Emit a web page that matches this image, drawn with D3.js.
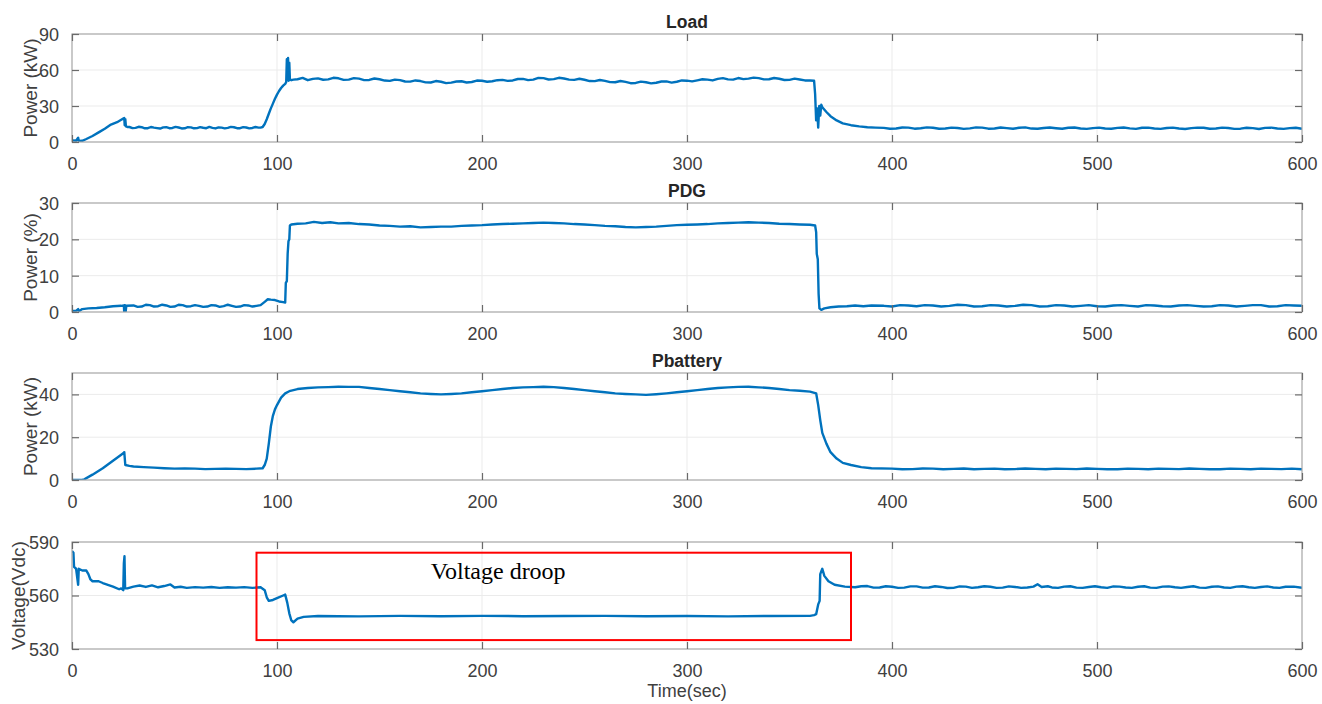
<!DOCTYPE html>
<html><head><meta charset="utf-8">
<script src="https://cdn.jsdelivr.net/npm/d3@7"></script>
<style>
html,body{margin:0;padding:0;background:#fff;}
svg{display:block;}
</style></head>
<body>
<svg id="chart" width="1322" height="704" font-family="'Liberation Sans',Arial,Helvetica,sans-serif"></svg>
<script>
// ---------------- DATA ----------------
const xTicks = [0,100,200,300,400,500,600];
const titles = ["Load","PDG","Pbattery",""];
const yLabels = ["Power (kW)","Power (%)","Power (kW)","Voltage(Vdc)"];
const yDomains = [[0,90],[0,30],[0,50],[530,590]];
const yTicks = [[0,30,60,90],[0,10,20,30],[0,20,40],[530,560,590]];

const loadData = [
 [0,1.5],[1,1.2],[2,1.0],[3,3.5],[3.3,0.8],[5,1.0],[7,2.5],[10,5.0],[13,8.0],[16,11],[19,14.5],[22,16.5],[24,18.5],[25,19.5],[25.5,20],[25.7,14],[26,19],[26.3,13],[27,12.5],
 [28,12.5],[29.5,11.6],[31,11.8],[32.5,12.7],[34,12.3],[35.5,11.4],[37,11.5],[38.5,12.5],[40,12.0],[41.5,11.6],[43,11.2],[44.5,12.2],[46,12.4],[47.5,11.5],[49,11.7],[50.5,12.6],[52,12.1],[53.5,11.3],[55,11.4],[56.5,12.3],[58,12.2],[59.5,11.4],[61,11.6],[62.5,12.4],[64,11.9],[65.5,11.5],[67,12.6],[68.5,11.8],[70,11.3],[71.5,12.2],[73,12.0],[74.5,11.4],[76,11.8],[77.5,12.6],[79,12.3],[80.5,11.5],[82,11.5],[83.5,12.4],[85,12.1],[86.5,11.4],[88,11.7],[89.5,12.5],[91,12.0],
 [92,12],[93,12.5],[94,15],[95,19],[96,23.5],[97,28],[98,32],[99,36],[100,39.5],[101,42.5],[102,45],[103,47],[104,48.5],[104.5,50],[104.8,69],[105.1,52],[105.4,70],[105.7,51],[106,66],[106.3,52],[107,51.5],[108,52],
 [110,52.3],[112.5,53.4],[115,51.5],[117.5,52.6],[120,53.0],[122.5,51.9],[125,52.2],[127.5,53.5],[130,53.1],[132.5,51.8],[135,52.0],[137.5,53.2],[140,52.8],[142.5,51.6],[145,51.7],[147.5,52.9],[150,52.3],[152.5,51.2],[155,50.9],[157.5,52.0],[160,51.6],[162.5,50.4],[165,50.3],[167.5,51.3],[170,50.8],[172.5,49.7],[175,49.6],[177.5,50.8],[180,50.2],[182.5,49.1],[185,49.5],[187.5,50.4],[190,50.6],[192.5,49.6],[195,50.0],[197.5,51.2],[200,51.0],[202.5,50.2],[205,50.6],[207.5,51.5],[210,51.8],[212.5,50.9],[215,51.3],[217.5,52.5],[220,52.6],[222.5,51.6],[225,52.0],[227.5,53.4],[230,53.2],[232.5,52.1],[235,52.4],[237.5,53.5],[240,52.9],[242.5,52.0],[245,51.8],[247.5,52.7],[250,51.9],[252.5,50.8],[255,50.7],[257.5,51.7],[260,50.9],[262.5,49.9],[265,49.8],[267.5,50.8],[270,50.1],[272.5,49.0],[275,49.2],[277.5,50.3],[280,49.8],[282.5,48.9],[285,49.4],[287.5,50.4],[290,50.5],[292.5,49.5],[295,50.2],[297.5,51.3],[300,51.1],[302.5,50.5],[305,51.4],[307.5,52.3],[310,52.0],[312.5,51.3],[315,52.6],[317.5,53.2],[320,52.2],[322.5,52.0],[325,53.3],[327.5,52.4],[330,52.8],[332.5,53.6],[335,53.2],[337.5,52.2],[340,52.3],[342.5,53.3],[345,52.7],[347.5,51.7],[350,51.8],[352.5,52.8],[355,52.1],[357.5,51.3],[360,51.2],[362,51.0],
 [362.5,40],[363,18],[363.5,28],[364,12],[364.5,30],[365,22],[365.5,31],[366,29],[368,25],[370,21.5],[373,18],[376,15.5],[380,14],[384,13],[388,12.3],[392,12.0],
 [396,11.8],[399,11.0],[402,11.3],[405,12.1],[408,12.0],[411,11.1],[414,11.5],[417,12.2],[420,11.9],[423,11.0],[426,11.2],[429,12.0],[432,11.7],[435,10.9],[438,11.4],[441,12.2],[444,12.0],[447,11.1],[450,11.3],[453,12.1],[456,11.6],[459,11.0],[462,11.9],[465,12.2],[468,11.2],[471,11.0],[474,11.7],[477,12.1],[480,11.5],[483,11.0],[486,11.9],[489,12.1],[492,11.3],[495,10.9],[498,11.6],[501,12.0],[504,11.2],[507,11.0],[510,11.8],[513,12.1],[516,11.4],[519,10.9],[522,11.9],[525,12.0],[528,11.3],[531,10.9],[534,11.7],[537,12.0],[540,11.2],[543,10.8],[546,11.6],[549,12.0],[552,11.9],[555,11.0],[558,11.3],[561,12.0],[564,11.7],[567,10.9],[570,11.1],[573,11.9],[576,11.6],[579,10.8],[582,11.8],[585,12.0],[588,11.2],[591,10.9],[594,11.6],[597,11.9],[600,11.0]
];

const pdgData = [
 [0,0.3],[2,0.3],[3,0.8],[3.3,0.2],[5,0.8],[8,1.0],[12,1.1],[16,1.3],[20,1.6],[24,1.7],[25.3,1.8],[25.5,-0.4],[25.8,1.9],[26.1,-0.2],[26.5,1.7],
 [30,1.8],[32,1.4],[34,1.5],[36,2.0],[38,1.9],[40,1.5],[42,1.6],[44,2.0],[46,1.8],[48,1.4],[50,1.5],[52,2.0],[54,1.9],[56,1.5],[58,1.6],[60,1.9],[62,1.7],[64,1.4],[66,1.5],[68,1.9],[70,1.8],[72,1.4],[74,1.6],[76,2.0],[78,1.7],[80,1.4],[82,1.5],[84,1.9],[86,1.8],[88,1.5],[90,1.7],[92,1.9],
 [94,2.8],[95.5,3.5],[97,3.4],[99,3.3],[101,2.9],[103,2.7],[104,2.6],[104.3,8.0],[104.8,8.5],[105.2,16],[105.6,19.5],[106,20],[106.3,23.8],[107,24.1],
 [110,24.3],[114,24.4],[118,24.8],[122,24.5],[126,24.7],[130,24.4],[135,24.5],[140,24.2],[145,24.1],[150,23.8],[155,23.7],[160,23.5],[165,23.6],[170,23.3],[175,23.4],[180,23.5],[185,23.5],[190,23.7],[195,23.8],[200,23.9],[205,24.1],[210,24.2],[215,24.3],[220,24.4],[225,24.5],[230,24.6],[235,24.5],[240,24.4],[245,24.2],[250,24.1],[255,23.9],[260,23.7],[265,23.6],[270,23.4],[275,23.3],[280,23.4],[285,23.5],[290,23.7],[295,23.9],[300,24.0],[305,24.1],[310,24.2],[315,24.4],[320,24.5],[325,24.6],[330,24.7],[335,24.6],[340,24.5],[345,24.3],[350,24.2],[355,24.1],[360,24.0],[362.5,23.8],
 [363,22],[363.3,16],[363.8,14.5],[364.2,5],[364.6,1.0],[365.5,0.6],[367,1.0],[370,1.3],[374,1.5],[378,1.6],[382,1.8],[386,1.6],[390,1.8],
 [396,1.7],[400,1.5],[404,1.9],[408,1.8],[412,1.6],[416,1.9],[420,1.8],[424,1.5],[428,1.7],[432,2.0],[436,1.9],[440,1.5],[444,1.6],[448,1.9],[452,1.8],[456,1.5],[460,1.7],[464,2.0],[468,1.9],[472,1.5],[476,1.6],[480,1.9],[484,1.8],[488,1.5],[492,1.7],[496,1.9],[500,1.6],[504,1.5],[508,1.8],[512,1.9],[516,1.7],[520,1.5],[524,1.9],[528,1.8],[532,1.6],[536,1.5],[540,1.8],[544,1.9],[548,1.7],[552,1.5],[556,1.6],[560,1.9],[564,1.8],[568,1.5],[572,1.7],[576,1.9],[580,1.9],[584,1.5],[588,1.6],[592,1.9],[596,1.8],[600,1.7]
];

const batData = [
 [0,0],[5,0],[6,0.3],[10,2.5],[15,5.5],[20,9],[25,12.5],[25.5,13],[26,7],[28,6.6],[30,6.3],[35,6.0],[40,5.8],[45,5.5],[50,5.3],[55,5.4],[60,5.3],[65,5.1],[70,5.2],[75,5.3],[80,5.2],[85,5.1],[90,5.3],[93,5.5],
 [94,7],[95,10],[96,17],[97,25],[98,30],[99,33],[100,35],[102,38.5],[104,40.5],[106,41.5],[110,42.5],[115,43.0],[120,43.3],[125,43.4],[130,43.6],[135,43.5],[140,43.5],[145,43.0],[150,42.5],[155,42.0],[160,41.5],[165,41.0],[170,40.5],[175,40.2],[180,40.0],[185,40.2],[190,40.5],[195,41.0],[200,41.5],[205,42.0],[210,42.5],[215,43.0],[220,43.3],[225,43.4],[230,43.6],[235,43.4],[240,43.0],[245,42.5],[250,42.0],[255,41.5],[260,41.0],[265,40.5],[270,40.2],[275,40.0],[280,39.8],[285,40.1],[290,40.5],[295,41.0],[300,41.5],[305,42.0],[310,42.5],[315,43.0],[320,43.3],[325,43.5],[330,43.6],[335,43.3],[340,43.0],[345,42.5],[350,42.0],[355,41.7],[360,41.3],[363,40.5],
 [364,35],[365,28],[366,22],[368,17],[370,13],[373,10],[376,8],[380,7],[385,6],[390,5.5],
 [400,5.3],[405,5.0],[410,5.1],[415,5.4],[420,5.3],[425,5.0],[430,5.2],[435,5.4],[440,5.0],[445,5.2],[450,5.3],[455,5.0],[460,5.1],[465,5.4],[470,5.2],[475,5.0],[480,5.3],[485,5.2],[490,5.1],[495,5.4],[500,5.2],[505,5.0],[510,5.0],[515,5.3],[520,5.2],[525,5.0],[530,5.3],[535,5.2],[540,5.1],[545,5.4],[550,5.2],[555,5.0],[560,5.0],[565,5.3],[570,5.2],[575,5.0],[580,5.3],[585,5.2],[590,5.1],[595,5.3],[600,5.0]
];

const voltData = [
 [0,585],[0.7,584],[1,576],[2,575],[3,566],[3.3,575],[5,574],[7,574],[8,572],[9,569],[10,568],[13,568],[15,567],[20,565],[23,563.5],[24,564],[25,563],[25.3,578],[25.6,582],[25.9,564],
 [27,564],[30,565],[33,565.6],[36,564.8],[39,565.7],[42,564.6],[45,565.3],[48,566.2],[50,564.5],[53,564.9],[56,564.3],[60,564.7],[64,564.4],[68,564.8],[72,564.3],[76,564.6],[80,564.4],[84,564.7],[88,564.3],[92,564.6],
 [94,563],[95,559],[96,557],[98,557.5],[100,558.5],[103,560],[104,560.5],[105,556],[106,550],[107,546],[108,545],[110,547],[113,548],[120,548.5],
 [140,548.3],[160,548.6],[180,548.4],[200,548.6],[220,548.4],[240,548.5],[260,548.6],[280,548.4],[300,548.5],[320,548.3],[340,548.5],[360,548.6],[362,549],[363,549.5],
 [364,555],[364.7,557],[365,572],[366,575],[367,571],[369,568],[372,566],[377,565],
 [382,564.6],[385,565.2],[388,565.3],[391,564.4],[394,564.5],[397,565.2],[400,564.9],[403,564.3],[406,564.4],[409,565.1],[412,565.1],[415,564.4],[418,564.5],[421,565.2],[424,564.8],[427,564.2],[430,564.3],[433,565.1],[436,565.0],[439,564.3],[442,564.6],[445,565.2],[448,564.9],[451,564.3],[454,564.4],[457,565.1],[460,564.8],[463,564.3],[466,564.5],[469,565.0],[471,566.3],[473,564.8],[476,565.2],[478,564.5],[481,564.3],[484,565.0],[487,565.2],[490,564.4],[493,564.3],[496,564.8],[499,565.2],[502,564.6],[505,564.3],[508,565.1],[511,565.0],[514,564.5],[517,564.3],[520,564.9],[523,565.2],[526,564.4],[529,564.3],[532,565.0],[535,565.1],[538,564.6],[541,564.3],[544,564.8],[547,565.2],[550,564.4],[553,564.3],[556,564.9],[559,565.1],[562,564.5],[565,564.3],[568,565.0],[571,565.2],[574,564.6],[577,564.3],[580,564.8],[583,565.1],[586,564.5],[589,564.3],[592,564.9],[596,565.0],[600,564.3]
];

const seriesList = [loadData, pdgData, batData, voltData];

// annotation (data units of the voltage panel)
const droopBox = {x0: 90, x1: 380, y0: 584, y1: 535};
const droopText = {x: 175, y: 569, label: "Voltage droop"};

// ---------------- LAYOUT ----------------
const svg = d3.select("#chart");
const left = 72, right = 1302;
const tops = [34, 203, 373, 542];
const bottoms = [142, 312, 480, 649];
const yLabelX = [30, 30, 30, 18];
const x = d3.scaleLinear().domain([0,600]).range([left,right]);
const textCol = "#404040";
const lineCol = "#0072BD";

seriesList.forEach((data, i) => {
  const y = d3.scaleLinear().domain(yDomains[i]).range([bottoms[i], tops[i]]);
  const g = svg.append("g");

  // grid
  g.selectAll(".vg").data(xTicks.slice(1,-1)).enter().append("line")
    .attr("x1", d=>x(d)).attr("x2", d=>x(d)).attr("y1", tops[i]).attr("y2", bottoms[i])
    .attr("stroke", "#ebebeb").attr("stroke-width", 1);
  g.selectAll(".hg").data(yTicks[i].filter(d=>d!==yDomains[i][0] && d!==yDomains[i][1])).enter().append("line")
    .attr("x1", left).attr("x2", right).attr("y1", d=>y(d)).attr("y2", d=>y(d))
    .attr("stroke", "#ebebeb").attr("stroke-width", 1);

  // line
  const clipId = "clip"+i;
  svg.append("clipPath").attr("id", clipId).append("rect")
    .attr("x", left).attr("y", tops[i]).attr("width", right-left).attr("height", bottoms[i]-tops[i]);
  g.append("path").datum(data)
    .attr("clip-path", `url(#${clipId})`)
    .attr("fill", "none").attr("stroke", lineCol).attr("stroke-width", 2.4)
    .attr("stroke-linejoin", "round")
    .attr("d", d3.line().x(d=>x(d[0])).y(d=>y(d[1])));

  // box
  g.append("rect").attr("x", left).attr("y", tops[i]).attr("width", right-left).attr("height", bottoms[i]-tops[i])
    .attr("fill", "none").attr("stroke", "#a6a6a6").attr("stroke-width", 1.2);

  // axes (ticks inside)
  const tl = 7;
  const xb = d3.axisBottom(x).tickValues(xTicks).tickSize(-tl).tickPadding(tl+13).tickFormat(d3.format("d"));
  const gx = g.append("g").attr("transform", `translate(0,${bottoms[i]})`).call(xb);
  const xt = d3.axisTop(x).tickValues(xTicks).tickSize(-tl).tickFormat("");
  const gxt = g.append("g").attr("transform", `translate(0,${tops[i]})`).call(xt);
  const yl = d3.axisLeft(y).tickValues(yTicks[i]).tickSize(-tl).tickPadding(tl+6).tickFormat(d3.format("d"));
  const gy = g.append("g").attr("transform", `translate(${left},0)`).call(yl);
  const yr = d3.axisRight(y).tickValues(yTicks[i]).tickSize(-tl).tickFormat("");
  const gyr = g.append("g").attr("transform", `translate(${right},0)`).call(yr);
  [gx,gxt,gy,gyr].forEach(a => {
    a.attr("font-family", null);
    a.select(".domain").remove();
    a.selectAll(".tick line").attr("stroke", "#6a6a6a").attr("stroke-width", 1.2);
    a.selectAll(".tick text").attr("fill", textCol).style("font-size", "18px");
  });
  gx.attr("font-size", null);
  gy.attr("font-size", null);
  gx.selectAll(".tick text").attr("dy", "0.45em");
  gy.selectAll(".tick text").attr("dy", "0.36em");

  // y label
  g.append("text")
    .attr("transform", `translate(${yLabelX[i]},${(tops[i]+bottoms[i])/2}) rotate(-90)`)
    .attr("text-anchor", "middle").attr("dy", "0.35em")
    .attr("fill", textCol).style("font-size", "19px").text(yLabels[i]);

  // title
  if (titles[i]) {
    g.append("text").attr("x", (left+right)/2).attr("y", tops[i]-6)
      .attr("text-anchor", "middle").attr("font-weight", "bold")
      .attr("fill", "#262626").style("font-size", "17.5px").text(titles[i]);
  }

  if (i === 3) {
    g.append("rect")
      .attr("x", x(droopBox.x0)).attr("y", y(droopBox.y0))
      .attr("width", x(droopBox.x1)-x(droopBox.x0)).attr("height", y(droopBox.y1)-y(droopBox.y0))
      .attr("fill", "none").attr("stroke", "#ff0000").attr("stroke-width", 2);
    g.append("text").attr("x", x(droopText.x)).attr("y", y(droopText.y))
      .style("font-family", "'Liberation Serif','Times New Roman',serif")
      .style("font-size", "24px").attr("fill", "#000").text(droopText.label);
  }
});

svg.append("text").attr("x", (left+right)/2).attr("y", 697)
  .attr("text-anchor", "middle").attr("fill", textCol).style("font-size", "18px").text("Time(sec)");
</script>
</body></html>
